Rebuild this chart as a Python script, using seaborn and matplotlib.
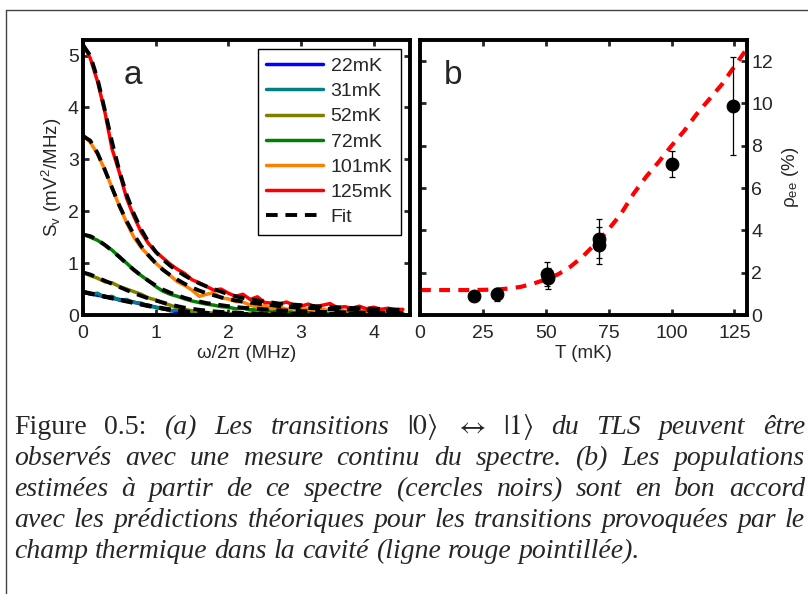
import numpy as np
import pandas as pd
import matplotlib
matplotlib.use("Agg")
import matplotlib.pyplot as plt
import seaborn as sns
from matplotlib.lines import Line2D

# ---- panel a : noise spectra S_v(omega) for each temperature ----
freq = np.round(np.arange(0, 4.45, 0.1), 1)  # MHz
temps = ['22mK', '31mK', '52mK', '72mK', '101mK', '125mK']
colors = ['#0000FF', '#008080', '#808000', '#008000', '#FF8000', '#FF0000']

sv_22 = [0.44, 0.41, 0.38, 0.36, 0.32, 0.30, 0.27, 0.25, 0.21, 0.19,
         0.15, 0.12, 0.09, 0.06, 0.04, 0.02, 0.01, 0.00, 0.01, 0.00,
         0.00, 0.01, 0.00, 0.00, 0.01, 0.00, 0.00, 0.00, 0.01, 0.00,
         0.00, 0.00, 0.00, 0.01, 0.00, 0.00, 0.00, 0.00, 0.00, 0.00,
         0.00, 0.00, 0.00, 0.00, 0.00]
sv_31 = [0.46, 0.40, 0.42, 0.34, 0.36, 0.28, 0.30, 0.24, 0.23, 0.17,
         0.15, 0.13, 0.08, 0.10, 0.05, 0.04, 0.06, 0.02, 0.03, 0.01,
         0.02, 0.01, 0.02, 0.01, 0.00, 0.02, 0.01, 0.00, 0.01, 0.02,
         0.00, 0.01, 0.00, 0.01, 0.02, 0.00, 0.01, 0.00, 0.01, 0.00,
         0.01, 0.00, 0.01, 0.00, 0.01]
sv_52 = [0.82, 0.76, 0.71, 0.64, 0.62, 0.55, 0.50, 0.45, 0.40, 0.33,
         0.29, 0.23, 0.19, 0.14, 0.11, 0.08, 0.06, 0.05, 0.03, 0.06,
         0.02, 0.04, 0.02, 0.03, 0.01, 0.04, 0.02, 0.01, 0.03, 0.02,
         0.01, 0.03, 0.01, 0.02, 0.01, 0.02, 0.03, 0.01, 0.02, 0.01,
         0.02, 0.01, 0.03, 0.01, 0.02]
sv_72 = [1.56, 1.50, 1.44, 1.35, 1.25, 1.12, 1.00, 0.87, 0.76, 0.66,
         0.55, 0.46, 0.40, 0.36, 0.31, 0.27, 0.24, 0.21, 0.19, 0.16,
         0.15, 0.12, 0.13, 0.10, 0.11, 0.08, 0.09, 0.06, 0.08, 0.05,
         0.07, 0.04, 0.06, 0.05, 0.03, 0.09, 0.04, 0.05, 0.03, 0.06,
         0.04, 0.05, 0.02, 0.05, 0.04]
sv_101 = [3.47, 3.33, 3.10, 2.80, 2.45, 2.10, 1.78, 1.50, 1.30, 1.15,
          1.00, 0.88, 0.76, 0.64, 0.57, 0.48, 0.36, 0.40, 0.43, 0.33,
          0.31, 0.26, 0.25, 0.19, 0.15, 0.18, 0.12, 0.16, 0.11, 0.13,
          0.10, 0.12, 0.09, 0.11, 0.08, 0.12, 0.07, 0.10, 0.09, 0.07,
          0.10, 0.06, 0.09, 0.07, 0.10]
sv_125 = [5.22, 4.95, 4.50, 3.92, 3.20, 2.75, 2.25, 1.90, 1.60, 1.38,
          1.22, 1.10, 0.98, 0.88, 0.80, 0.68, 0.62, 0.55, 0.48, 0.50,
          0.42, 0.36, 0.40, 0.30, 0.35, 0.24, 0.23, 0.21, 0.25, 0.19,
          0.17, 0.21, 0.16, 0.19, 0.22, 0.14, 0.16, 0.13, 0.17, 0.12,
          0.15, 0.11, 0.13, 0.10, 0.11]

fit_22 = [0.44, 0.41, 0.38, 0.35, 0.32, 0.29, 0.26, 0.23, 0.20, 0.17,
          0.15, 0.12, 0.10, 0.08, 0.06, 0.05, 0.04, 0.03, 0.02, 0.02,
          0.015, 0.01, 0.01, 0.01, 0.01, 0.01, 0.01, 0.01, 0.01, 0.01,
          0.01, 0.01, 0.01, 0.01, 0.01, 0.01, 0.01, 0.01, 0.01, 0.01,
          0.01, 0.01, 0.01, 0.01, 0.01]
fit_31 = [0.45, 0.42, 0.39, 0.36, 0.33, 0.30, 0.27, 0.24, 0.21, 0.18,
          0.16, 0.13, 0.11, 0.09, 0.07, 0.06, 0.05, 0.04, 0.03, 0.03,
          0.02, 0.02, 0.015, 0.015, 0.01, 0.01, 0.01, 0.01, 0.01, 0.01,
          0.01, 0.01, 0.01, 0.01, 0.01, 0.01, 0.01, 0.01, 0.01, 0.01,
          0.01, 0.01, 0.01, 0.01, 0.01]
fit_52 = [0.82, 0.78, 0.72, 0.66, 0.60, 0.54, 0.48, 0.42, 0.37, 0.32,
          0.28, 0.24, 0.20, 0.17, 0.14, 0.12, 0.10, 0.085, 0.07, 0.06,
          0.05, 0.045, 0.04, 0.035, 0.03, 0.03, 0.025, 0.025, 0.02, 0.02,
          0.02, 0.02, 0.02, 0.02, 0.02, 0.02, 0.02, 0.02, 0.02, 0.02,
          0.02, 0.02, 0.02, 0.02, 0.02]
fit_72 = [1.55, 1.52, 1.45, 1.35, 1.24, 1.12, 0.99, 0.87, 0.76, 0.66,
          0.57, 0.49, 0.43, 0.38, 0.33, 0.29, 0.26, 0.23, 0.21, 0.19,
          0.17, 0.155, 0.14, 0.13, 0.12, 0.11, 0.10, 0.09, 0.085, 0.08,
          0.075, 0.07, 0.065, 0.06, 0.058, 0.055, 0.052, 0.05, 0.048, 0.046,
          0.044, 0.042, 0.04, 0.039, 0.038]
fit_101 = [3.45, 3.36, 3.12, 2.80, 2.45, 2.11, 1.81, 1.55, 1.33, 1.15,
           1.00, 0.87, 0.77, 0.68, 0.60, 0.53, 0.47, 0.42, 0.38, 0.34,
           0.31, 0.28, 0.26, 0.24, 0.22, 0.20, 0.19, 0.17, 0.16, 0.15,
           0.14, 0.135, 0.13, 0.12, 0.115, 0.11, 0.105, 0.10, 0.095, 0.09,
           0.088, 0.085, 0.082, 0.08, 0.078]
fit_125 = [5.20, 5.00, 4.55, 3.95, 3.33, 2.78, 2.32, 1.95, 1.65, 1.41,
           1.22, 1.07, 0.95, 0.85, 0.76, 0.68, 0.61, 0.55, 0.50, 0.45,
           0.40, 0.36, 0.33, 0.30, 0.28, 0.26, 0.24, 0.22, 0.21, 0.20,
           0.19, 0.18, 0.17, 0.16, 0.155, 0.15, 0.14, 0.135, 0.13, 0.125,
           0.12, 0.115, 0.11, 0.105, 0.10]

# ---- panel b : excited state population vs temperature ----
T_meas = [21.5, 30.5, 50.5, 51.0, 71.0, 71.0, 100.0, 124.5]
rho_meas = [0.89, 0.97, 1.93, 1.73, 3.61, 3.29, 7.14, 9.88]
rho_err = [0.20, 0.33, 0.58, 0.50, 0.91, 0.88, 0.60, 2.30]

T_theo = [0, 10, 20, 30, 35, 40, 45, 50, 55, 60, 65, 70, 75, 80,
          85, 90, 95, 100, 105, 110, 115, 120, 125, 130]
rho_theo = [1.18, 1.18, 1.18, 1.20, 1.25, 1.33, 1.48, 1.68, 1.93, 2.30,
            2.80, 3.40, 4.05, 4.80, 5.75, 6.55, 7.25, 8.00, 8.70, 9.50,
            10.20, 10.90, 11.75, 12.60]

caption = [
    [("Figure", "normal"), ("0.5:", "normal"), ("(a)", "italic"), ("Les", "italic"),
     ("transitions", "italic"), (r"$|0\rangle$", "normal"), (r"$\leftrightarrow$", "normal"),
     (r"$|1\rangle$", "normal"), ("du", "italic"), ("TLS", "italic"),
     ("peuvent", "italic"), ("être", "italic")],
    "observés avec une mesure continu du spectre. (b) Les populations",
    "estimées à partir de ce spectre (cercles noirs) sont en bon accord",
    "avec les prédictions théoriques pour les transitions provoquées par le",
    "champ thermique dans la cavité (ligne rouge pointillée).",
]

sv_all = [sv_22, sv_31, sv_52, sv_72, sv_101, sv_125]
fit_all = [fit_22, fit_31, fit_52, fit_72, fit_101, fit_125]
df_sv = pd.concat([pd.DataFrame({'freq': freq, 'sv': s, 'fit': f, 'T': t})
                   for s, f, t in zip(sv_all, fit_all, temps)], ignore_index=True)
df_b = pd.DataFrame({'T': T_meas, 'rho': rho_meas, 'err': rho_err})
df_theo = pd.DataFrame({'T': T_theo, 'rho': rho_theo})

sns.set_style('ticks')
plt.rcParams['font.family'] = ['Liberation Sans', 'DejaVu Sans']
plt.rcParams['mathtext.fontset'] = 'stix'
plt.rcParams.update({
    'xtick.direction': 'in', 'ytick.direction': 'in',
    'xtick.top': True, 'ytick.right': True,
    'xtick.major.size': 4, 'ytick.major.size': 4,
    'xtick.major.width': 2, 'ytick.major.width': 2,
    'axes.linewidth': 2.8, 'axes.edgecolor': 'black',
})

W, H = 808, 594
fig = plt.figure(figsize=(W / 100, H / 100), dpi=100)
ax_a = fig.add_axes([83 / W, 1 - 315 / H, 327 / W, 275 / H])
ax_b = fig.add_axes([420 / W, 1 - 315 / H, 327 / W, 275 / H])

# panel a
sns.lineplot(data=df_sv, x='freq', y='sv', hue='T', hue_order=temps, palette=colors,
             estimator=None, sort=False, lw=2.5, legend=False, ax=ax_a)
sns.lineplot(data=df_sv, x='freq', y='fit', units='T', estimator=None, sort=False,
             color='black', lw=2.8, linestyle=(0, (3.0, 2.0)), legend=False, ax=ax_a)
ax_a.set_xlim(0, 4.5)
ax_a.set_ylim(0, 5.3)
ax_a.set_xticks([0, 1, 2, 3, 4])
ax_a.set_yticks([0, 1, 2, 3, 4, 5])
ax_a.tick_params(labelsize=14, pad=3)
ax_a.tick_params(axis='x', pad=7)
ax_a.set_xlabel('ω/2π (MHz)', fontsize=13.5, labelpad=2)
ax_a.set_ylabel(r'S$_\mathregular{v}$ (mV$^\mathregular{2}$/MHz)', fontsize=13.5, labelpad=3)
ax_a.text(0.153, 0.87, 'a', transform=ax_a.transAxes, fontsize=24, va='center', ha='center')

handles = [Line2D([], [], color=c, lw=2.5) for c in colors]
handles.append(Line2D([], [], color='black', lw=2.8, linestyle=(0, (3.0, 2.0))))
leg = ax_a.legend(handles, temps + ['Fit'], loc='upper right', fontsize=14,
                  frameon=True, fancybox=False, framealpha=1, edgecolor='black',
                  handlelength=2.9, handletextpad=0.4, labelspacing=0.39,
                  borderpad=0.45, borderaxespad=0.45)
leg.get_frame().set_linewidth(1.0)

# panel b
sns.lineplot(data=df_theo, x='T', y='rho', color='#FF0000', lw=3,
             linestyle=(0, (2.6, 2.0)), ax=ax_b, zorder=2)
ax_b.errorbar(df_b['T'], df_b['rho'], yerr=df_b['err'], fmt='none', ecolor='black',
              elinewidth=0.9, capsize=2.5, capthick=0.9, zorder=3)
sns.scatterplot(data=df_b, x='T', y='rho', color='black', s=85, edgecolor='black',
                ax=ax_b, zorder=4)
ax_b.set_xlim(0, 130)
ax_b.set_ylim(0, 13)
ax_b.set_xticks([0, 25, 50, 75, 100, 125])
ax_b.set_yticks([0, 2, 4, 6, 8, 10, 12])
ax_b.tick_params(labelsize=14, pad=3, labelleft=False, labelright=True)
ax_b.tick_params(axis='x', pad=7)
ax_b.yaxis.set_label_position('right')
ax_b.set_xlabel('T (mK)', fontsize=13.5, labelpad=2)
ax_b.set_ylabel(r'ρ$_\mathregular{ee}$ (%)', fontsize=13.5, labelpad=5)
ax_b.text(0.10, 0.87, 'b', transform=ax_b.transAxes, fontsize=24, va='center', ha='center')

# outer frame of the figure box
fig.add_artist(Line2D([5.5 / W, 1.0], [1 - 10 / H, 1 - 10 / H], color='#444444', lw=1))
fig.add_artist(Line2D([5.5 / W, 5.5 / W], [0.0, 1 - 10 / H], color='#444444', lw=1))

# caption, justified line by line
cap_size = 20
x_left, x_right = 14, 805
baselines = [434, 465, 496, 527, 558]
lines = []
for i, line in enumerate(caption):
    toks = line if isinstance(line, list) else [(w, 'italic') for w in line.split()]
    arts = [fig.text(0, 1 - baselines[i] / H, w, fontsize=cap_size, family='Liberation Serif',
                     style=s, va='baseline', ha='left') for w, s in toks]
    lines.append(arts)

fig.canvas.draw()
renderer = fig.canvas.get_renderer()
for i, arts in enumerate(lines):
    widths = [a.get_window_extent(renderer).width for a in arts]
    if i < len(lines) - 1:
        gap = (x_right - x_left - sum(widths)) / (len(arts) - 1)
    else:
        gap = cap_size * 100 / 72 * 0.25
    x = x_left
    for a, w in zip(arts, widths):
        a.set_x(x / W)
        x += w + gap

fig.savefig('out.png', dpi=100)
